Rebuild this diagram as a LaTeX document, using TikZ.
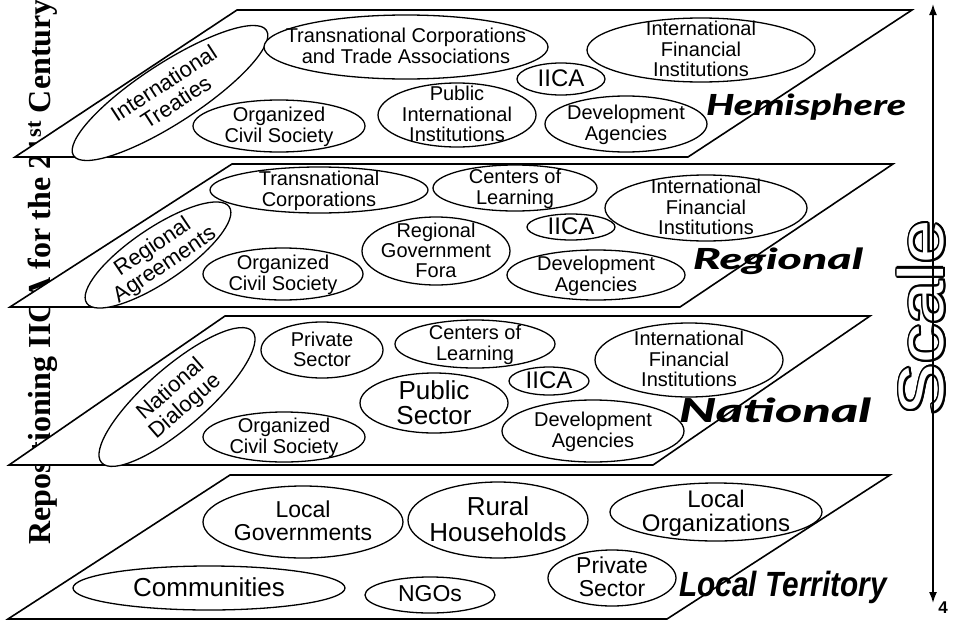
\documentclass[tikz,border=0pt]{standalone}
\usepackage{fontspec}
\setmainfont{Liberation Sans}
\newfontfamily\titlefont{Liberation Serif}
\newfontfamily\levelfont{Lato Black Italic}
\usepackage{graphicx}
\usepackage[copies]{contour}
\usetikzlibrary{arrows.meta,shapes.geometric}

\contourlength{1.8pt}
\newcommand{\orgtxt}[1]{\makebox[0pt]{\smash{\raisebox{-0.35em}{%
  \begin{tabular}{@{}c@{}}#1\end{tabular}}}}}

\begin{document}
\begin{tikzpicture}[x=1pt, y=-1pt, layer/.style={draw, line width=1.6pt,
      fill=white}, org/.style={ellipse, draw, line width=1.3pt, fill=white,
      inner sep=0pt, outer sep=0pt, font=\fontsize{20}{20}\selectfont},
      big/.style={org, font=\fontsize{24}{23}\selectfont},
      sz/.style 2 args={minimum width=2*#1, minimum height=2*#2},
      level/.style={inner sep=0pt, font=\levelfont\fontsize{29}{29}\selectfont},
      scalearrow/.style={line width=1.6pt,
      arrows={Latex[length=11pt,width=8pt]-Latex[length=11pt,width=8pt]}} ]

    \useasboundingbox (0,0) rectangle (953,624);

    \node[rotate=90, anchor=base west, inner sep=0pt,
      font=\titlefont\bfseries\fontsize{32}{32}\selectfont] (title)
      at (50,545) {Repositioning IICA for the 21\textsuperscript{st} Century};

    \node[rotate=90, inner sep=0pt, font=\fontsize{64}{64}\selectfont]
      (scale) at (922,318) {\scalebox{1.22}[1]{\color{white}\contour{black}{Scale}}};
    \coordinate (up) at (933,4);
    \coordinate (down) at (933,603);
    \draw[scalearrow] (down) -- (up);
    \node[font=\bfseries\fontsize{17}{17}\selectfont] (pg) at (943,608) {4};

    \draw[layer] (15,157) -- (237,10) -- (912,10) -- (688,157) -- cycle;
    \draw[layer] (10,307) -- (232,164) -- (893,164) -- (680,307) -- cycle;
    \draw[layer] (9,465) -- (225,316) -- (870,316) -- (653,465) -- cycle;
    \draw[layer] (8,619) -- (230,475) -- (890,475) -- (667,619) -- cycle;

    \node[org, sz={115}{30}, rotate=33, font=\fontsize{22}{21}\selectfont]
      (h1) at (170,93) {\orgtxt{International\\Treaties}};
    \node[org, sz={142}{32}] (h2) at (406,47)
      {\orgtxt{Transnational Corporations\\and Trade Associations}};
    \node[org, sz={114}{32}] (h3) at (701,50)
      {\orgtxt{International\\Financial\\Institutions}};
    \node[big, sz={44}{16}] (h4) at (561,79) {\orgtxt{IICA}};
    \node[org, sz={86}{26}] (h5) at (279,126)
      {\orgtxt{Organized\\Civil Society}};
    \node[org, sz={79}{32}] (h6) at (457,115)
      {\orgtxt{Public\\International\\Institutions}};
    \node[org, sz={81}{28}] (h7) at (626,124)
      {\orgtxt{Development\\Agencies}};
    \node[level] (hem) at (806,107) {\scalebox{1.36}[1]{Hemisphere}};

    \node[org, sz={86}{27}, rotate=34, font=\fontsize{22}{21}\selectfont]
      (r1) at (158,255) {\orgtxt{Regional\\Agreements}};
    \node[org, sz={109}{23}] (r2) at (319,190)
      {\orgtxt{Transnational\\Corporations}};
    \node[org, sz={82}{23}] (r3) at (515,188)
      {\orgtxt{Centers of\\Learning}};
    \node[org, sz={101}{33}] (r4) at (706,208)
      {\orgtxt{International\\Financial\\Institutions}};
    \node[big, sz={44}{13}] (r5) at (571,227) {\orgtxt{IICA}};
    \node[org, sz={74}{34}] (r6) at (436,251)
      {\orgtxt{Regional\\Government\\Fora}};
    \node[org, sz={80}{26}] (r7) at (283,274)
      {\orgtxt{Organized\\Civil Society}};
    \node[org, sz={89}{25}] (r8) at (596,275)
      {\orgtxt{Development\\Agencies}};
    \node[level] (reg) at (778,261) {\scalebox{1.6}[1]{Regional}};

    \node[org, sz={100}{30}, rotate=41, font=\fontsize{22}{21}\selectfont]
      (n1) at (177,397) {\orgtxt{National\\Dialogue}};
    \node[org, sz={61}{28}] (n2) at (322,350) {\orgtxt{Private\\Sector}};
    \node[org, sz={80}{24}] (n3) at (475,344)
      {\orgtxt{Centers of\\Learning}};
    \node[org, sz={94}{37}] (n4) at (689,360)
      {\orgtxt{International\\Financial\\Institutions}};
    \node[big, sz={40}{14}] (n5) at (549,381) {\orgtxt{IICA}};
    \node[org, sz={74}{30}, font=\fontsize{26}{24}\selectfont] (n6)
      at (434,403) {\orgtxt{Public\\Sector}};
    \node[org, sz={81}{25}] (n7) at (284,437)
      {\orgtxt{Organized\\Civil Society}};
    \node[org, sz={91}{31}] (n8) at (593,431)
      {\orgtxt{Development\\Agencies}};
    \node[level, font=\levelfont\fontsize{33}{33}\selectfont]
      (nat) at (775,410) {\scalebox{1.58}[1]{National}};

    \node[org, sz={100}{36}, font=\fontsize{23}{23}\selectfont] (l1)
      at (303,522) {\orgtxt{Local\\Governments}};
    \node[org, sz={90}{38}, font=\fontsize{26}{25}\selectfont] (l2)
      at (498,520) {\orgtxt{Rural\\Households}};
    \node[org, sz={106}{29}, font=\fontsize{24}{23}\selectfont] (l3)
      at (716,512) {\orgtxt{Local\\Organizations}};
    \node[org, sz={136}{22}, font=\fontsize{26}{26}\selectfont] (l4)
      at (209,588) {\orgtxt{Communities}};
    \node[org, sz={65}{18}, font=\fontsize{23}{23}\selectfont] (l5)
      at (430,595) {\orgtxt{NGOs}};
    \node[org, sz={64}{28}, font=\fontsize{23}{23}\selectfont] (l6)
      at (612,578) {\orgtxt{Private\\Sector}};
    \node[inner sep=0pt, font=\bfseries\itshape\fontsize{35}{35}\selectfont]
      (loc) at (783,587) {\scalebox{0.85}[1]{Local Territory}};

  \end{tikzpicture}
\end{document}
